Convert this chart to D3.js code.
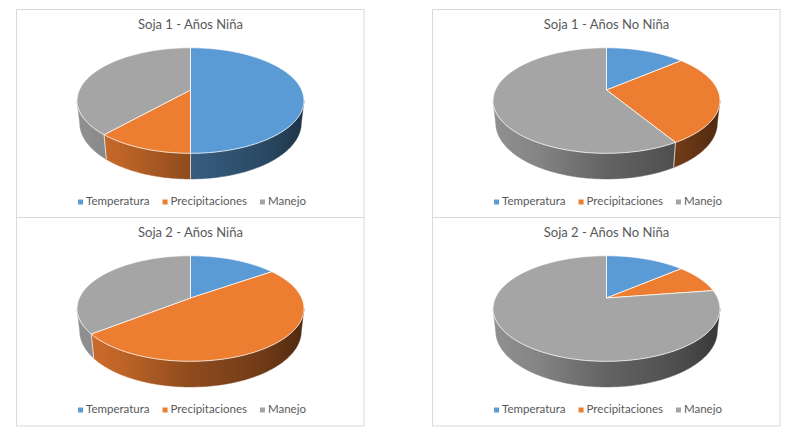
<!DOCTYPE html>
<html>
<head>
<meta charset="utf-8">
<script src="https://cdn.jsdelivr.net/npm/d3@7"></script>
<style>
  body { margin: 0; background: #fff; }
  text { font-family: Lato, "Open Sans", sans-serif; fill: #595959; }
</style>
</head>
<body>
<script>
// data
const categories = ["Temperatura", "Precipitaciones", "Manejo"];
const colors = ["#5B9BD5", "#ED7D31", "#A5A5A5"];
const titles = [
  "Soja 1 - Años Niña",
  "Soja 1 - Años No Niña",
  "Soja 2 - Años Niña",
  "Soja 2 - Años No Niña"
];
const soja1Nina = [50, 11.5, 38.5];
const soja1NoNina = [13.7, 27.7, 58.6];
const soja2Nina = [15.2, 49.1, 35.7];
const soja2NoNina = [13.7, 8.9, 77.4];
const series = [soja1Nina, soja1NoNina, soja2Nina, soja2NoNina];

const w = 790;
const h = 432;

// 3d look (perspective)
const R = 111.2;
const tilt = Math.asin(0.456);
const D = 497;
const depth = 25.4;
const k = (R * Math.cos(tilt)) / D;
const visFrom = Math.acos(-k);
const visTo = 2 * Math.PI - visFrom;

const svg = d3.select("body").append("svg").attr("width", w).attr("height", h);
const defs = svg.append("defs");

const pie = d3.pie().sort(null).value((d) => d);
const line = d3.line();

// panel boxes
const cols = [16, 432];
const rows = [9, 217];
const pw = 347.5;
const ph = 208.5;

// shading of the side wall, left to right
const shade = [
  [0, 0.88],
  [0.2, 0.8],
  [0.5, 0.6],
  [0.7, 0.52],
  [0.85, 0.45],
  [1, 0.33]
];

function proj(cx, cy, a, r, y) {
  const x = r * Math.sin(a);
  const z = -r * Math.cos(a);
  const v = z * Math.sin(tilt) - y * Math.cos(tilt);
  const wz = z * Math.cos(tilt) + y * Math.sin(tilt);
  const s = D / (D - wz);
  return [cx + s * x, cy + s * v];
}

function arcPts(cx, cy, a0, a1, y) {
  const n = Math.max(2, Math.ceil(((a1 - a0) * 180) / Math.PI));
  return d3.range(n + 1).map((i) => proj(cx, cy, a0 + ((a1 - a0) * i) / n, R, y));
}

series.forEach(function (vals, p) {
  const x0 = cols[p % 2];
  const y0 = rows[Math.floor(p / 2)];
  const cx = x0 + 174.5;
  const cy = y0 + 81;
  const g = svg.append("g");

  g.append("rect")
    .attr("x", x0 + 0.5)
    .attr("y", y0 + 0.5)
    .attr("width", pw)
    .attr("height", ph)
    .attr("fill", "#fff")
    .attr("stroke", "#d9d9d9")
    .attr("stroke-width", 1);

  g.append("text")
    .attr("x", cx)
    .attr("y", y0 + 17)
    .attr("text-anchor", "middle")
    .attr("dominant-baseline", "middle")
    .style("font-size", "13px")
    .text(titles[p]);

  const arcs = pie(vals);

  // gradients for side walls
  arcs.forEach(function (d, i) {
    const base = d3.rgb(colors[i]);
    const grad = defs
      .append("linearGradient")
      .attr("id", "side" + p + "_" + i)
      .attr("gradientUnits", "userSpaceOnUse")
      .attr("x1", cx - R * 1.03)
      .attr("x2", cx + R * 1.03)
      .attr("y1", 0)
      .attr("y2", 0);
    shade.forEach(function (s) {
      grad
        .append("stop")
        .attr("offset", s[0])
        .attr("stop-color", d3.rgb(base.r * s[1], base.g * s[1], base.b * s[1]).formatHex());
    });
  });

  // side walls
  arcs.forEach(function (d, i) {
    const s = Math.max(d.startAngle, visFrom);
    const e = Math.min(d.endAngle, visTo);
    if (e <= s) return;
    const pts = arcPts(cx, cy, s, e, 0).concat(arcPts(cx, cy, s, e, -depth).reverse());
    g.append("path")
      .attr("d", line(pts) + "Z")
      .attr("fill", "url(#side" + p + "_" + i + ")")
      .attr("stroke", "url(#side" + p + "_" + i + ")")
      .attr("stroke-width", 0.5);
  });

  // seams on the wall
  arcs.forEach(function (d) {
    const a = d.startAngle;
    if (a <= visFrom || a >= visTo) return;
    g.append("path")
      .attr("d", line([proj(cx, cy, a, R, 0), proj(cx, cy, a, R, -depth)]))
      .attr("stroke", "#ffffff")
      .attr("stroke-opacity", 0.7)
      .attr("stroke-width", 1);
  });

  // top faces
  arcs.forEach(function (d, i) {
    const pts = [[cx, cy]].concat(arcPts(cx, cy, d.startAngle, d.endAngle, 0));
    g.append("path")
      .attr("d", line(pts) + "Z")
      .attr("fill", colors[i])
      .attr("stroke", "#ffffff")
      .attr("stroke-opacity", 0.75)
      .attr("stroke-width", 1)
      .attr("stroke-linejoin", "round");
  });

  // legend
  const leg = g.append("g");
  let lx = 0;
  categories.forEach(function (c, i) {
    const item = leg.append("g").attr("transform", "translate(" + lx + ",0)");
    item
      .append("rect")
      .attr("x", 0)
      .attr("y", -2.5)
      .attr("width", 5)
      .attr("height", 5)
      .attr("fill", colors[i]);
    const t = item
      .append("text")
      .attr("x", 8)
      .attr("y", 0)
      .attr("dominant-baseline", "middle")
      .style("font-size", "11.5px")
      .text(c);
    lx += 8 + t.node().getComputedTextLength() + 13;
  });
  lx -= 13;
  leg.attr("transform", "translate(" + (cx + 1.5 - lx / 2) + "," + (y0 + 193) + ")");
});
</script>
</body>
</html>
